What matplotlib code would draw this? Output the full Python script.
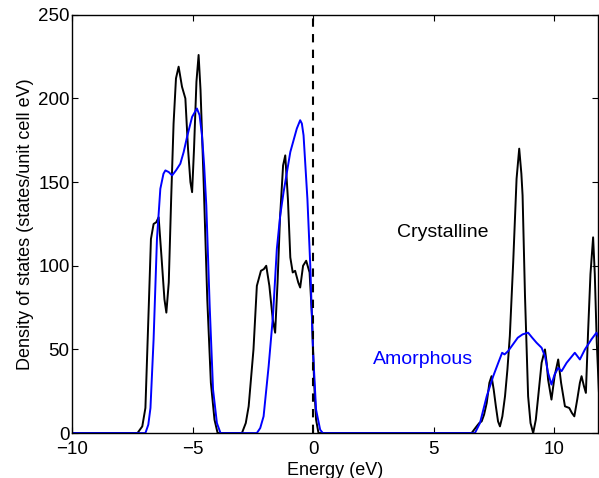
import numpy as np
import matplotlib
matplotlib.use('Agg')
import matplotlib.pyplot as plt

plt.rcParams['font.family'] = ['Liberation Sans', 'DejaVu Sans']

# Crystalline DOS (energy in eV, states/unit cell eV)
cryst_e = [-10, -7.3, -7.1, -6.97, -6.83, -6.74, -6.63, -6.52, -6.42, -6.3, -6.18, -6.10, -6.0,
           -5.9, -5.8, -5.7, -5.59, -5.45, -5.31, -5.2, -5.1, -5.03, -4.95, -4.85, -4.76,
           -4.68, -4.55, -4.4, -4.25, -4.1, -3.97,
           -2.96, -2.8, -2.68, -2.48, -2.34, -2.17, -2.05, -1.95, -1.82, -1.68, -1.58, -1.48,
           -1.38, -1.25, -1.16, -1.05, -0.95, -0.85, -0.75, -0.62, -0.54, -0.42, -0.29, -0.15,
           -0.05, 0.04, 0.12, 0.22,
           6.58, 6.79, 6.9, 7.0, 7.1, 7.21, 7.32, 7.41, 7.5, 7.59, 7.68, 7.76, 7.86, 7.97,
           8.07, 8.17, 8.31, 8.45, 8.56, 8.65, 8.70, 8.80, 8.93, 9.03, 9.14, 9.25, 9.35, 9.49,
           9.63, 9.70, 9.76, 9.90, 10.03, 10.18, 10.3, 10.46, 10.64, 10.75, 10.85, 10.97,
           11.08, 11.15, 11.25, 11.33, 11.42, 11.52, 11.63, 11.70, 11.78, 11.87]
cryst_d = [0, 0, 4, 15, 76, 116, 125, 126, 129, 105, 80, 72, 90,
           140, 185, 212, 219, 207, 200, 170, 150, 144, 170, 210, 226,
           205, 150, 80, 30, 8, 0,
           0, 6, 16, 50, 88, 97, 98, 100, 88, 68, 60, 90,
           128, 160, 166, 140, 105, 96, 97, 90, 87, 100, 103, 96,
           70, 30, 8, 0,
           0, 4, 6, 7, 11, 18, 30, 34, 26, 16, 7, 4, 10, 22,
           38, 58, 102, 152, 170, 155, 142, 82, 22, 6, 0, 8, 22, 42,
           50, 42, 32, 20, 34, 44, 30, 16, 15, 12, 10, 20,
           30, 34, 28, 24, 60, 95, 117, 95, 55, 25]

# Amorphous DOS
amor_e = [-10, -6.97, -6.85, -6.76, -6.63, -6.49, -6.35, -6.22, -6.14, -6.0, -5.86, -5.7,
          -5.52, -5.38, -5.24, -5.03, -4.83, -4.72, -4.62, -4.53, -4.44, -4.30, -4.16, -4.0,
          -3.85,
          -2.34, -2.2, -2.06, -1.85, -1.67, -1.51, -1.37, -1.23, -0.95, -0.68, -0.54, -0.47,
          -0.40, -0.24, -0.12, -0.01, 0.12, 0.29, 0.4,
          6.72, 6.93, 7.21, 7.48, 7.69, 7.85, 7.95, 8.1, 8.3, 8.5, 8.7, 8.93, 9.1, 9.28,
          9.49, 9.63, 9.76, 9.90, 10.03, 10.18, 10.32, 10.53, 10.7, 10.87, 11.08, 11.29,
          11.56, 11.77, 11.87]
amor_d = [0, 0, 5, 15, 56, 116, 146, 155, 157, 156, 154, 157,
          161, 168, 177, 189, 194, 190, 178, 160, 136, 76, 26, 6,
          0,
          0, 3, 10, 40, 70, 110, 130, 144, 168, 182, 187, 185,
          178, 140, 100, 50, 14, 2, 0,
          0, 6, 22, 34, 42, 48, 47, 49, 53, 57, 59, 60, 57, 54,
          51, 46, 36, 29, 35, 39, 37, 42, 45, 48, 44, 50,
          56, 60, 57]

fig = plt.figure(figsize=(5.99, 4.78), dpi=100)
ax = fig.add_axes([0.121, 0.094, 0.878, 0.875])

ax.plot(cryst_e, cryst_d, color='black', lw=1.4)
ax.plot(amor_e, amor_d, color='blue', lw=1.4)
ax.plot([0, 0], [0, 250], color='black', lw=1.5, ls=(0, (4, 3.5)))

ax.text(3.47, 119.6, 'Crystalline', color='black', fontsize=14, va='center', ha='left')
ax.text(2.5, 43.7, 'Amorphous', color='blue', fontsize=14, va='center', ha='left')

ax.set_xlim(-10, 11.85)
ax.set_ylim(0, 250)
ax.set_xticks([-10, -5, 0, 5, 10])
ax.set_yticks([0, 50, 100, 150, 200, 250])
ax.tick_params(direction='in', top=True, right=True, labelsize=13.5, length=4, width=0.8, pad=2)
ax.tick_params(axis='x', pad=5.5)
for s in ax.spines.values():
    s.set_linewidth(1.0)

ax.set_xlabel('Energy (eV)', fontsize=13, labelpad=3)
ax.set_ylabel('Density of states (states/unit cell eV)', fontsize=13, labelpad=3)

fig.savefig('out.png', dpi=100)
